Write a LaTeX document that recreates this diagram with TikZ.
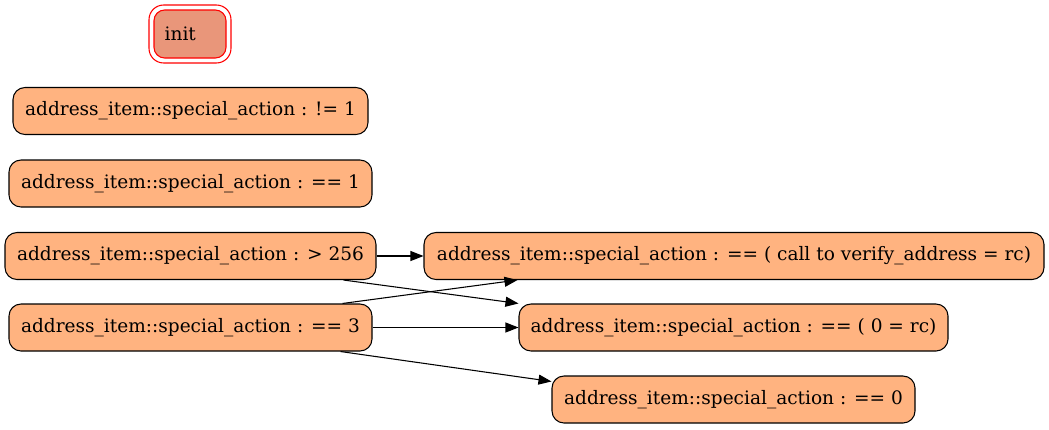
\documentclass[tikz,border=0pt]{standalone}
\usepackage{fontspec}
\setmainfont{DejaVu Serif}
\usepackage{xcolor}
\usepackage{tikz}
\usetikzlibrary{arrows.meta,calc}

\definecolor{actfill}{RGB}{255,179,128}
\definecolor{initfill}{RGB}{233,150,122}

\tikzset{
  action/.style={draw=black, fill=actfill, rounded corners=9pt, line width=0.8pt,
    minimum height=35.25pt, inner sep=2pt, font=\fontsize{13.9pt}{16pt}\selectfont},
  initstate/.style={draw=red, fill=initfill, rounded corners=8pt, line width=0.8pt,
    minimum width=54pt, minimum height=36pt, inner xsep=8pt, inner ysep=2pt,
    text width=38pt, align=left, font=\fontsize{13.9pt}{16pt}\selectfont},
  initframe/.style={draw=red, rounded corners=11pt, line width=0.8pt,
    minimum width=61.5pt, minimum height=43.5pt},
  flow/.style={-{Triangle[length=9.75pt,width=7.5pt]}, line width=0.8pt}
}

\begin{document}
\begin{tikzpicture}[x=0.75pt,y=0.75pt,yscale=-1,xscale=1]
\useasboundingbox (0,0) rectangle (1049,429);

% init state
\node [initstate] (init) at (190,34) {init};
\node [initframe] (initouter) at (init) {};

% left column
\node [action, minimum width=266.25pt] (ne1) at (190.5,111) {address\_item::special\_action : != 1};
\node [action, minimum width=272.25pt] (eq1) at (190.5,183.5) {address\_item::special\_action : == 1};
\node [action, minimum width=278.25pt] (gt256) at (190.5,256) {address\_item::special\_action : > 256};
\node [action, minimum width=272.25pt] (eq3) at (190.5,327.5) {address\_item::special\_action : == 3};

% right column
\node [action, minimum width=465pt] (eqcall) at (734,256) {address\_item::special\_action : == ( call to verify\_address = rc)};
\node [action, minimum width=321.75pt] (eqrc) at (733.5,327.5) {address\_item::special\_action : == ( 0 = rc)};
\node [action, minimum width=272.25pt] (eq0) at (733.5,399.5) {address\_item::special\_action : == 0};

% transitions
\draw [flow] (gt256) -- (eqcall);
\draw [flow] ($(gt256.south east)+(-33,0)$) -- (eqrc.north west);
\draw [flow] ($(eq3.north east)+(-30,0)$) -- ($(eqcall.south west)+(94,0)$);
\draw [flow] (eq3) -- (eqrc);
\draw [flow] ($(eq3.south east)+(-32,0)$) -- ($(eq0.north west)+(0,6)$);

\end{tikzpicture}
\end{document}
